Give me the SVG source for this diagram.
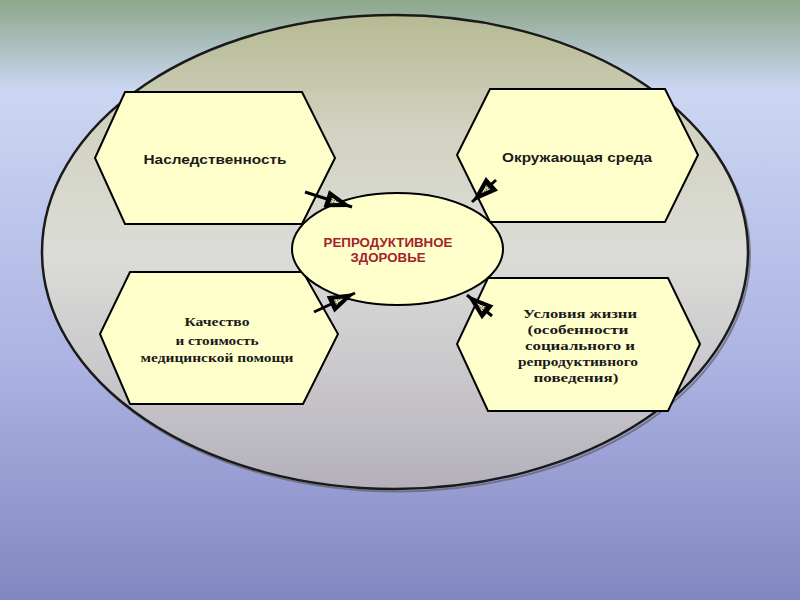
<svg xmlns="http://www.w3.org/2000/svg" width="800" height="600" viewBox="0 0 800 600">
<defs>
<linearGradient id="bg" x1="0" y1="0" x2="0" y2="1">
<stop offset="0" stop-color="#8da78b"/>
<stop offset="0.15" stop-color="#cbd7f2"/>
<stop offset="0.6" stop-color="#adb3e3"/>
<stop offset="1" stop-color="#8387c1"/>
</linearGradient>
<linearGradient id="outer" x1="0" y1="0" x2="0" y2="1">
<stop offset="0" stop-color="#b6ba92"/>
<stop offset="0.25" stop-color="#d2d3c2"/>
<stop offset="0.5" stop-color="#dcdcd8"/>
<stop offset="0.8" stop-color="#c6c4c9"/>
<stop offset="1" stop-color="#b3b0ba"/>
</linearGradient>
<pattern id="dots" patternUnits="userSpaceOnUse" width="2.5" height="2.5">
<rect width="2.5" height="2.5" fill="#e8e8b8"/>
<rect x="0" y="0" width="1.2" height="1.2" fill="#222"/>
</pattern>
<marker id="head" markerUnits="userSpaceOnUse" markerWidth="28" markerHeight="18" viewBox="0 0 28 18" refX="27" refY="9" orient="auto" overflow="visible">
<polygon points="0,0 27,9 0,18" fill="#000"/>
<polygon points="5,6 14,9 5,12" fill="url(#dots)"/>
</marker>
</defs>
<style>
.hex{fill:#ffffcc;stroke:#000;stroke-width:2}
.sans{font-family:"Liberation Sans",Arial,sans-serif;font-size:13px;font-weight:bold;fill:#1a1a1a;text-anchor:middle}
.serif{font-family:"Liberation Serif","Times New Roman",serif;font-size:13.5px;font-weight:bold;fill:#1a1a1a;text-anchor:middle}
.center{font-family:"Liberation Sans",Arial,sans-serif;font-size:12px;font-weight:bold;fill:#a3232c;text-anchor:middle}
.conn{stroke:#000;stroke-width:3;fill:none;marker-end:url(#head)}
</style>
<rect width="800" height="600" fill="url(#bg)"/>
<g id="outer-ellipse">
<ellipse cx="396" cy="253" rx="353" ry="237" fill="none" stroke="#555" stroke-width="2" opacity="0.6" transform="translate(1,1.5)"/>
<ellipse cx="395" cy="252" rx="353" ry="237" fill="url(#outer)" stroke="#1a1a1a" stroke-width="2.5"/>
</g>
<g id="node-heredity">
<polygon class="hex" points="125,92 302,92 335,158 302,224 125,224 95,158"/>
<text class="sans" x="215" y="164" textLength="143" lengthAdjust="spacingAndGlyphs">Наследственность</text>
</g>
<g id="node-environment">
<polygon class="hex" points="490,89 665,89 698,155 665,222 490,222 457,155"/>
<text class="sans" x="577" y="162" textLength="150" lengthAdjust="spacingAndGlyphs">Окружающая среда</text>
</g>
<g id="node-medical">
<polygon class="hex" points="130,272 303,272 338,334 303,404 130,404 100,334"/>
<text class="serif" x="217" y="326" textLength="65" lengthAdjust="spacingAndGlyphs">Качество</text>
<text class="serif" x="217" y="345" textLength="83" lengthAdjust="spacingAndGlyphs">и стоимость</text>
<text class="serif" x="217" y="362" textLength="153" lengthAdjust="spacingAndGlyphs">медицинской помощи</text>
</g>
<g id="node-living">
<polygon class="hex" points="488,278 668,278 700,344 668,411 488,411 457,344"/>
<text class="serif" x="580" y="318" textLength="114" lengthAdjust="spacingAndGlyphs">Условия жизни</text>
<text class="serif" x="578" y="334" textLength="101" lengthAdjust="spacingAndGlyphs">(особенности</text>
<text class="serif" x="580" y="350" textLength="110" lengthAdjust="spacingAndGlyphs">социального и</text>
<text class="serif" x="578" y="366" textLength="120" lengthAdjust="spacingAndGlyphs">репродуктивного</text>
<text class="serif" x="576" y="382" textLength="85" lengthAdjust="spacingAndGlyphs">поведения)</text>
</g>
<g id="node-health">
<ellipse cx="397.5" cy="249" rx="105.5" ry="56" fill="#ffffcc" stroke="#000" stroke-width="2"/>
<text class="center" x="388" y="247" textLength="129" lengthAdjust="spacingAndGlyphs">РЕПРОДУКТИВНОЕ</text>
<text class="center" x="388" y="262" textLength="75" lengthAdjust="spacingAndGlyphs">ЗДОРОВЬЕ</text>
</g>
<g id="connectors">
<line class="conn" x1="305" y1="192" x2="352" y2="207"/>
<line class="conn" x1="314" y1="312" x2="355" y2="293"/>
<line class="conn" x1="496" y1="180" x2="472" y2="202"/>
<line class="conn" x1="492" y1="316" x2="467" y2="295"/>
</g>
</svg>
